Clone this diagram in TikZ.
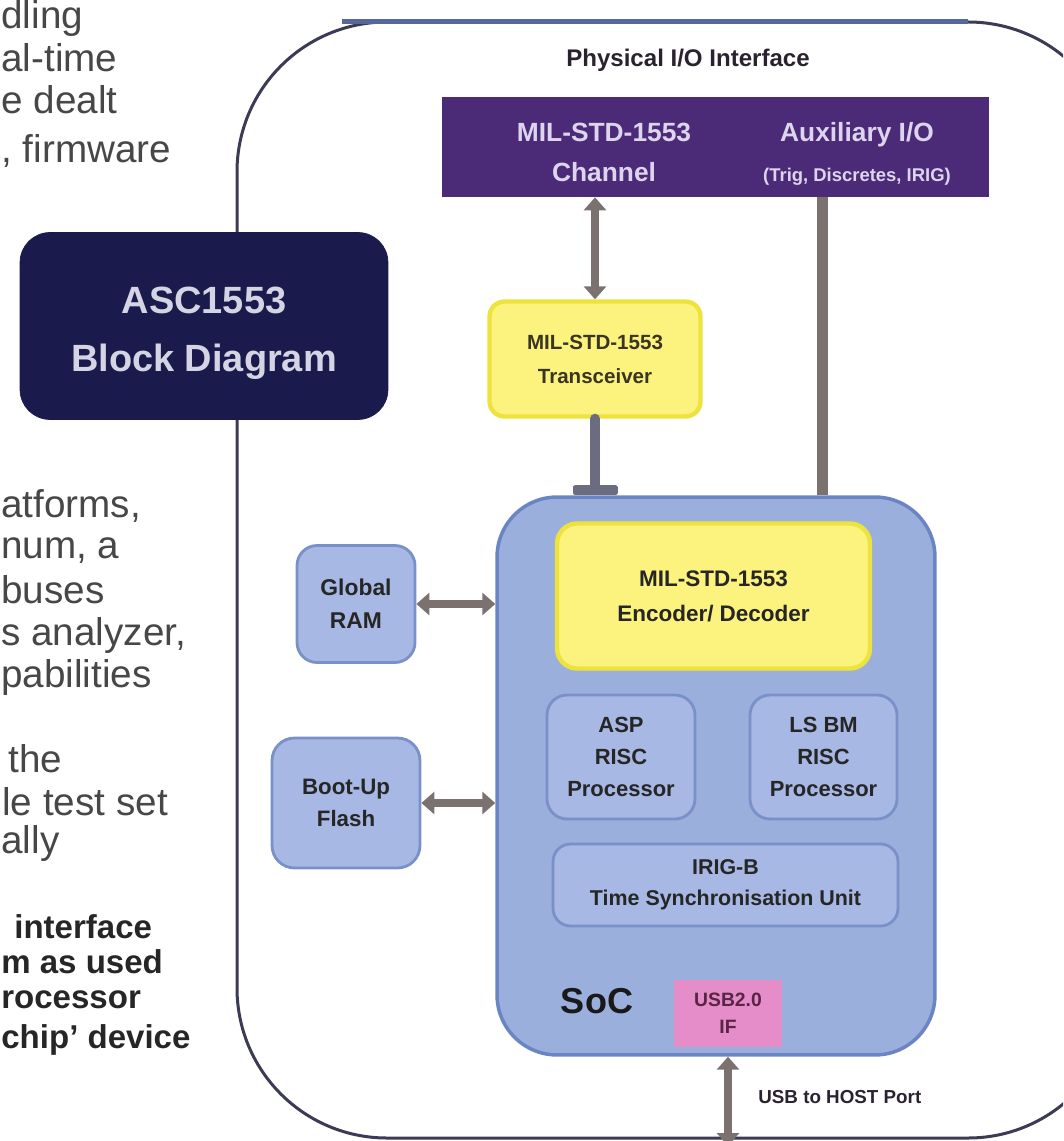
\documentclass[tikz,border=0pt]{standalone}
\usepackage{fontspec}
\setmainfont{Liberation Sans}
\usetikzlibrary{arrows.meta,positioning}

\definecolor{sidegray}{HTML}{474747}
\definecolor{navy}{HTML}{1B1A4C}
\definecolor{titletext}{HTML}{D4D4E4}
\definecolor{iopurple}{HTML}{4B2A78}
\definecolor{iotext}{HTML}{DDD5EE}
\definecolor{labeldark}{HTML}{2B2230}
\definecolor{framecol}{HTML}{3B3B55}
\definecolor{barblue}{HTML}{55679B}
\definecolor{yellowfill}{HTML}{FBF37E}
\definecolor{yellowedge}{HTML}{EDE33C}
\definecolor{olivetext}{HTML}{3A3522}
\definecolor{socfill}{HTML}{9BAFDD}
\definecolor{socedge}{HTML}{6B84C3}
\definecolor{blockfill}{HTML}{A6B8E3}
\definecolor{blockedge}{HTML}{7A90C8}
\definecolor{boxtext}{HTML}{262626}
\definecolor{usbpink}{HTML}{E48DC9}
\definecolor{usbtext}{HTML}{5A2445}
\definecolor{linkgray}{HTML}{7B7270}
\definecolor{teegray}{HTML}{6C6C80}

\begin{document}
\begin{tikzpicture}[
        x=0.02cm, y=-0.02cm,
        every node/.style={align=center, inner sep=0pt},
        sidetext/.style={text=sidegray, anchor=base west, font=\fontsize{22}{26}\selectfont},
        sidebold/.style={text=black!85, anchor=base west, font=\bfseries\fontsize{18.8}{22}\selectfont},
        iotext/.style={text=iotext, font=\bfseries\fontsize{15}{22.8}\selectfont},
        yellowbox/.style={draw=yellowedge, fill=yellowfill, line width=2.5pt, text=boxtext},
        block/.style={draw=blockedge, fill=blockfill, line width=1.6pt, text=boxtext, rounded corners=0.4cm, font=\bfseries\fontsize{12.5}{18.2}\selectfont},
        link/.style={draw=linkgray, line width=0.16cm, {Triangle[length=0.26cm,width=0.44cm]}-{Triangle[length=0.26cm,width=0.44cm]}},
        tee/.style={draw=teegray, line width=0.2cm, line cap=round, -{Rectangle[length=0.2cm,width=0.9cm,round]}}
    ]
    \useasboundingbox (0,0) rectangle (1063,1141);
    \clip (0,0) rectangle (1063,1141);

    % Text running beside the figure
    \node[sidetext] (side1) at (1,29) {dling};
    \node[sidetext] (side2) at (1,72) {al-time};
    \node[sidetext] (side3) at (1,114) {e dealt};
    \node[sidetext] (side4) at (1,163) {, firmware};
    \node[sidetext] (side5) at (1,517) {atforms,};
    \node[sidetext] (side6) at (1,558) {num, a};
    \node[sidetext] (side7) at (1,603) {buses};
    \node[sidetext] (side8) at (1,645) {s analyzer,};
    \node[sidetext] (side9) at (1,687) {pabilities};
    \node[sidetext] (side10) at (8,772) {the};
    \node[sidetext] (side11) at (2,815) {le test set};
    \node[sidetext] (side12) at (1,853) {ally};
    \node[sidebold] (side13) at (14,938) {interface};
    \node[sidebold] (side14) at (1,973) {m as used};
    \node[sidebold] (side15) at (1,1008) {rocessor};
    \node[sidebold] (side16) at (1,1048) {chip’ device};

    % Outer frame
    \draw[framecol, line width=0.06cm, rounded corners=3cm] (650,22) -- (237,22) -- (237,1138) -- (1118,1138) -- (1118,22) -- cycle;
    \draw[barblue, line width=0.1cm] (342,22) -- (968,22);

    % Title
    \node[fill=navy, draw=navy, rounded corners=0.6cm, minimum width=7.36cm, minimum height=3.74cm] (title) at (204,326) {};
    \node[text=titletext, font=\bfseries\fontsize{21.6}{33}\selectfont] (titletext) at (204,333) {ASC1553\\Block Diagram};

    % Physical interface
    \node[text=labeldark, font=\bfseries\fontsize{13.7}{16}\selectfont] (phys) at (688,60) {Physical I/O Interface};
    \node[fill=iopurple, minimum width=10.94cm, minimum height=2cm] (io) at (715.5,147) {};
    \node[iotext] (chan) at (604,152) {MIL-STD-1553\\Channel};
    \node[iotext] (aux) at (857,154) {Auxiliary I/O\\{\fontsize{10.5}{12}\selectfont(Trig, Discretes, IRIG)}};

    \node[yellowbox, rounded corners=0.3cm, minimum width=4.22cm, minimum height=2.3cm,
        text=olivetext, font=\bfseries\fontsize{11.7}{19.4}\selectfont] (xcvr) at (595,359) {MIL-STD-1553\\Transceiver};

    % SoC and its parts
    \node[draw=socedge, fill=socfill, line width=2pt, rounded corners=1.2cm, minimum width=8.76cm, minimum height=11.16cm] (soc) at (716,776) {};
    \node[yellowbox, rounded corners=0.4cm, minimum width=6.26cm, minimum height=2.9cm,
        font=\bfseries\fontsize{12.8}{19.9}\selectfont] (enc) at (713.5,596) {MIL-STD-1553\\Encoder/ Decoder};
    \node[block, minimum width=2.96cm, minimum height=2.48cm] (asp) at (621,757) {ASP\\RISC\\Processor};
    \node[block, minimum width=2.94cm, minimum height=2.48cm] (lsbm) at (823.5,757) {LS BM\\RISC\\Processor};
    \node[block, rounded corners=0.35cm, minimum width=6.9cm, minimum height=1.64cm,
        font=\bfseries\fontsize{12.2}{17.6}\selectfont] (irig) at (725.5,885) {IRIG-B\\Time Synchronisation Unit};
    \node[text=black!90, font=\bfseries\fontsize{20.5}{24}\selectfont] (soclabel) at (597,1001) {SoC};
    \node[fill=usbpink, minimum width=2.16cm, minimum height=1.34cm, text=usbtext,
        font=\bfseries\fontsize{11}{15.4}\selectfont] (usbif) at (728,1013.5) {USB2.0\\IF};

    % Memories
    \node[block, minimum width=2.36cm, minimum height=2.34cm, font=\bfseries\fontsize{13}{18.8}\selectfont] (ram) at (356,604) {Global\\RAM};
    \node[block, rounded corners=0.45cm, minimum width=2.96cm, minimum height=2.6cm, font=\bfseries\fontsize{12.7}{18.2}\selectfont] (flash) at (346,803) {Boot-Up\\Flash};

    % Connectors
    \coordinate (auxtap) at (822,0);
    \coordinate (host) at (728,1146);
    \draw[link] (io.south -| xcvr.north) -- (xcvr.north);
    \draw[tee] (xcvr.south) -- (soc.north -| xcvr.south);
    \draw[draw=linkgray, line width=0.22cm] (io.south -| auxtap) -- (soc.north -| auxtap);
    \draw[link] (ram.east) -- (ram.east -| soc.west);
    \draw[link] (flash.east) -- (flash.east -| soc.west);
    \draw[link] (soc.south -| usbif.south) -- (host);
    \node[anchor=west, text=labeldark, font=\bfseries\fontsize{10.7}{13}\selectfont] (hostlabel) at (758,1097) {USB to HOST Port};

\end{tikzpicture}
\end{document}
